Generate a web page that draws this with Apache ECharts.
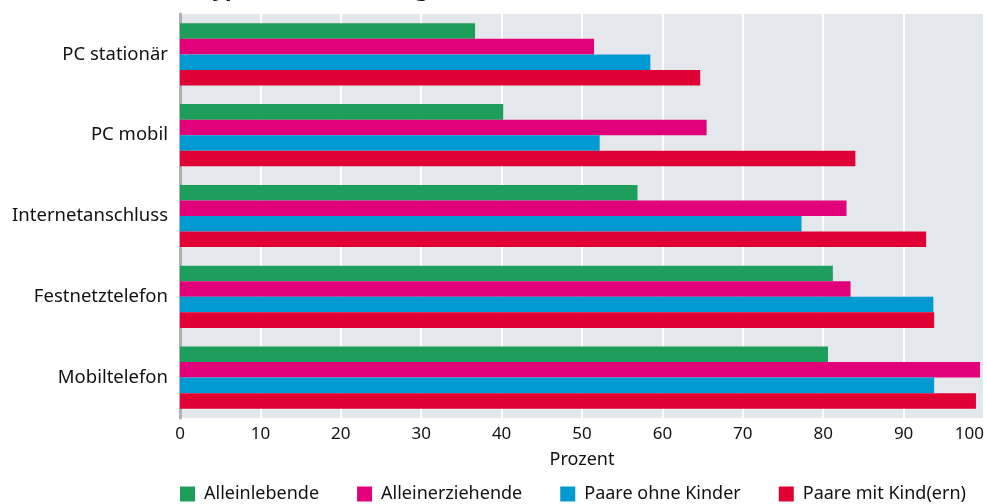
<!DOCTYPE html>
<html>
<head>
<meta charset="utf-8">
<script src="https://cdn.jsdelivr.net/npm/echarts@6/dist/echarts.min.js"></script>
<style>
  html, body { margin: 0; padding: 0; background: #fff; }
  #chart { width: 987px; height: 504px; }
</style>
</head>
<body>
<div id="chart"></div>
<script>
// Kategorien (von oben nach unten)
const categories = ['PC stationär', 'PC mobil', 'Internetanschluss', 'Festnetztelefon', 'Mobiltelefon']
const seriesNames = ['Alleinlebende', 'Alleinerziehende', 'Paare ohne Kinder', 'Paare mit Kind(ern)']
const colors = ['#1d9e5b', '#e2007a', '#0099d1', '#e10034']
// Werte in Prozent
const alleinlebende = [36.7, 40.2, 56.9, 81.2, 80.6]
const alleinerziehende = [51.5, 65.5, 82.9, 83.4, 99.5]
const paareOhneKinder = [58.5, 52.2, 77.3, 93.7, 93.8]
const paareMitKindern = [64.7, 84.0, 92.8, 93.8, 99.0]
const xTicks = [0, 10, 20, 30, 40, 50, 60, 70, 80, 90, 100]

const values = [alleinlebende, alleinerziehende, paareOhneKinder, paareMitKindern]
const font = 'Noto Sans'

const chart = echarts.init(document.getElementById('chart'), null, { renderer: 'canvas' })

const series = seriesNames.map((name, i) => ({
  name: name,
  type: 'bar',
  data: values[i],
  barGap: '0%',
  barCategoryGap: '23%',
  itemStyle: { color: colors[i] },
  animation: false
}))

chart.setOption({
  animation: false,
  title: {
    text: 'Haushaltstyp und Ausstattung',
    left: 88,
    top: -26,
    textStyle: { fontFamily: font, fontSize: 22, fontWeight: 'bold', color: '#111' }
  },
  grid: {
    left: 180,
    right: -1,
    top: 14,
    bottom: 86,
    show: true,
    backgroundColor: '#e4e8ec',
    borderWidth: 0
  },
  legend: {
    data: seriesNames,
    bottom: -4,
    left: 175,
    itemWidth: 15,
    itemHeight: 15,
    itemGap: 38,
    icon: 'rect',
    textStyle: { fontFamily: font, fontSize: 18, color: '#111', padding: [0, 0, 0, 4] }
  },
  xAxis: {
    type: 'value',
    min: xTicks[0],
    max: xTicks[xTicks.length - 1],
    interval: 10,
    name: 'Prozent',
    nameLocation: 'middle',
    nameGap: 33,
    nameTextStyle: { fontFamily: font, fontSize: 18, color: '#111' },
    axisLine: { show: false },
    axisTick: { show: false },
    axisLabel: { fontFamily: font, fontSize: 17, color: '#111', margin: 8, alignMaxLabel: 'right' },
    splitLine: { show: true, lineStyle: { color: '#ffffff', width: 2 } }
  },
  yAxis: {
    type: 'category',
    data: categories,
    inverse: true,
    axisLine: { show: true, lineStyle: { color: '#aeb0b3', width: 3 } },
    axisTick: { show: false },
    axisLabel: { fontFamily: font, fontSize: 18.5, color: '#111', margin: 12 },
    splitLine: { show: false }
  },
  series: series
})
</script>
</body>
</html>
